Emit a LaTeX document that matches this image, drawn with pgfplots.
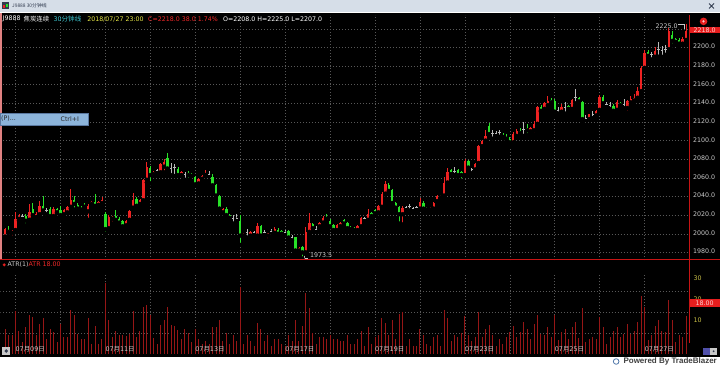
\documentclass[border=0pt]{standalone}
\usepackage{pgfplots}
\pgfplotsset{compat=1.18}
\usepackage{pgfplotstable}
\usetikzlibrary{backgrounds}
\usepackage{fontspec}
\setmainfont{DejaVu Sans}
\newfontfamily\cjk{Noto Sans CJK SC}
\newfontfamily\lib{Liberation Sans}

\definecolor{upred}{RGB}{238,34,34}
\definecolor{dngreen}{RGB}{40,225,40}
\definecolor{dojigray}{RGB}{185,185,185}
\definecolor{atrred}{RGB}{150,22,22}
\definecolor{gridgray}{RGB}{88,88,88}
\definecolor{lblgray}{RGB}{200,200,200}
\definecolor{sepred}{RGB}{200,20,20}
\definecolor{boxred}{RGB}{230,30,30}
\definecolor{boxtxt}{RGB}{255,205,205}
\definecolor{atrlbl}{RGB}{200,190,70}
\definecolor{titlebg}{RGB}{214,222,232}
\definecolor{titletxt}{RGB}{50,60,80}
\definecolor{menublue}{RGB}{140,180,218}
\definecolor{menuborder}{RGB}{90,120,160}
\definecolor{infoyellow}{RGB}{230,230,70}
\definecolor{infocyan}{RGB}{60,200,210}
\definecolor{infored}{RGB}{240,40,40}
\definecolor{pinkline}{RGB}{225,130,130}
\definecolor{iconblue}{RGB}{80,80,170}
\definecolor{logoblue}{RGB}{80,120,170}

\pgfplotstableread{
i o h l c a
0 1997 2006 1995 2005 12
1 2004 2008 2001 2002 9.2
2 2001 2004 1996 2003 9
3 2004 2023 2003 2016 20.6
4 2016 2021 2014 2019 10.8
5 2019 2021 2016 2019 5.7
6 2019 2021 2009 2014 12.9
7 2015 2032 2014 2023 18.4
8 2027 2033 2017 2020 17.6
9 2018 2023 2017 2021 8.9
10 2021 2035 2020 2030 14.4
11 2030 2040 2023 2025 17.1
12 2025 2028 2021 2025 7
13 2027 2029 2017 2019 12
14 2019 2029 2018 2027 10.5
15 2027 2028 2022 2023 5.7
16 2026 2030 2016 2020 14.4
17 2021 2027 2019 2025 8
18 2023 2030 2022 2029 8
19 2029 2048 2027 2036 21
20 2036 2040 2026 2032 18.4
21 2031 2033 2024 2027 9.7
22 2028 2030 2024 2026 7.3
23 2030 2033 2026 2029 7.3
24 2024 2032 2015 2030 17
25 2032 2035 2031 2034 5
26 2034 2043 2029 2030 13.3
27 2031 2035 2030 2034 5
28 2033 2039 2032 2036 7.3
29 2021 2023 2000 2005 33.8
30 2006 2020 2004 2018 16
31 2016 2019 2011 2017 8
32 2019 2025 2014 2015 10.8
33 2016 2018 2009 2012 9
34 2014 2015 2006 2008 9.2
35 2009 2015 2007 2014 8.5
36 2015 2025 2014 2024 9.7
37 2028 2044 2027 2036 20.3
38 2037 2039 2029 2030 8
39 2032 2037 2031 2036 10.8
40 2036 2059 2035 2058 22.4
41 2058 2077 2055 2072 23.2
42 2071 2073 2054 2063 18.4
43 2064 2067 2062 2066 7.6
44 2068 2070 2066 2068 5
45 2066 2076 2065 2075 13.7
46 2072 2080 2066 2077 16
47 2081 2087 2068 2070 22.4
48 2070 2076 2063 2070 13.7
49 2071 2075 2062 2071 13.3
50 2069 2072 2062 2063 11.3
51 2063 2067 2062 2066 7.3
52 2064 2066 2058 2064 12
53 2065 2067 2058 2063 10.2
54 2064 2065 2062 2062 5.7
55 2061 2062 2052 2053 12
56 2054 2060 2053 2059 7
57 2059 2063 2058 2062 5
58 2063 2068 2062 2064 6
59 2064 2067 2062 2064 5
60 2061 2064 2051 2052 13
61 2052 2053 2040 2041 13
62 2041 2042 2026 2027 16
63 2023 2028 2022 2027 6
64 2027 2029 2019 2020 10
65 2020 2021 2016 2017 5
66 2016 2020 2011 2016 9
67 2017 2021 2015 2017 6
68 2014 2020 1988 1998 32
69 1998 2001 1996 2000 5
70 2002 2005 1996 2002 9
71 1998 2003 1997 2002 6
72 2001 2003 1999 2001 4
73 1998 2012 1997 2008 15
74 2008 2009 1997 1998 12
75 2002 2004 1999 2002 6
76 1998 2001 1993 2001 9
77 2003 2005 2001 2003 4
78 2001 2007 2000 2005 7
79 2004 2006 1999 2000 7
80 2003 2004 1999 2000 5
81 2002 2004 2000 2002 4
82 2003 2004 1995 1996 9
83 1996 1999 1993 1996 6
84 1996 1997 1981 1982 16
85 1982 1986 1980 1985 6
86 1986 1987 1973.5 1980 13.5
87 1980 2007 1978 2002 29
88 2002 2022 2000 2012 22
89 2010 2012 2002 2006 10
90 2005 2008 2003 2005 5
91 2008 2013 2007 2012 8
92 2012 2019 2011 2017 8
93 2017 2021 2014 2016 7
94 2014 2016 2007 2008 9
95 2009 2010 2003 2004 7
96 2004 2010 2003 2009 7
97 2008 2013 2007 2012 6
98 2015 2016 2010 2011 6
99 2012 2013 2004 2006 9
100 2006 2008 2003 2005 5
101 2005 2007 2002 2004 5
102 2004 2009 2002 2008 7
103 2008 2018 2007 2017 11
104 2016 2018 2014 2016 4
105 2015 2027 2014 2021 13
106 2022 2023 2018 2019 5
107 2026 2027 2021 2022 8
108 2023 2031 2022 2030 9
109 2029 2045 2028 2043 17
110 2043 2057 2042 2053 15
111 2052 2054 2045 2046 9
112 2047 2048 2032 2033 16
113 2033 2034 2027 2028 7
114 2029 2030 2011 2021 19
115 2021 2030 2010 2028 20
116 2028 2030 2026 2028 4
117 2029 2032 2025 2029 7
118 2027 2029 2025 2027 4
119 2028 2030 2026 2028 4
120 2027 2038 2026 2034 12
121 2033 2035 2026 2027 9
122 2028 2029 2024 2026 5
123 2026 2029 2025 2028 4
124 2027 2034 2026 2033 8
125 2035 2042 2033 2041 9
126 2039 2042 2038 2041 4
127 2041 2061 2040 2054 21
128 2055 2071 2054 2066 17
129 2068 2069 2063 2064 6
130 2067 2072 2063 2067 9
131 2068 2069 2061 2063 8
132 2066 2067 2057 2063 10
133 2063 2080 2062 2078 18
134 2078 2079 2070 2071 9
135 2069 2071 2065 2069 6
136 2069 2076 2068 2075 8
137 2076 2095 2075 2094 20
138 2094 2101 2093 2100 8
139 2100 2111 2099 2105 12
140 2116 2119 2105 2107 14
141 2108 2111 2102 2108 9
142 2108 2110 2106 2108 4
143 2109 2111 2104 2109 7
144 2106 2108 2103 2104 4.9
145 2104 2107 2099 2102 8.1
146 2102 2104 2095 2098 10.5
147 2098 2109 2096 2107 13.3
148 2105 2112 2104 2110 8
149 2110 2114 2104 2108 10.5
150 2112 2120 2105 2112 15.2
151 2113 2118 2106 2111 12
152 2110 2115 2109 2113 7.3
153 2111 2121 2107 2118 14.4
154 2118 2137 2117 2136 18.4
155 2136 2138 2131 2132 9.7
156 2134 2141 2133 2140 8.9
157 2138 2148 2136 2143 12.9
158 2144 2146 2140 2141 8
159 2142 2145 2127 2131 18.4
160 2132 2136 2129 2132 6.5
161 2131 2139 2128 2136 10.5
162 2136 2141 2129 2136 12
163 2137 2138 2133 2134 7.3
164 2134 2145 2133 2144 12.9
165 2146 2155 2140 2146 15.2
166 2146 2147 2141 2142 7.5
167 2141 2142 2121 2123 21.9
168 2124 2127 2122 2124 5.7
169 2123 2129 2122 2128 7.3
170 2128 2132 2124 2128 8
171 2127 2133 2126 2132 7.3
172 2133 2149 2131 2147 17.6
173 2147 2149 2136 2140 12.9
174 2139 2141 2137 2139 4.9
175 2138 2141 2134 2138 8
176 2137 2139 2128 2132 10.8
177 2133 2144 2131 2141 12.9
178 2140 2141 2137 2138 8
179 2139 2145 2135 2139 9.7
180 2135 2144 2130 2142 14.4
181 2141 2148 2138 2145 9.7
182 2143 2150 2139 2146 11.1
183 2146 2158 2143 2153 15.2
184 2153 2180 2152 2178 27.5
185 2178 2197 2175 2194 22.4
186 2195 2197 2190 2191 6.5
187 2192 2195 2187 2192 8.9
188 2190 2200 2187 2196 13.3
189 2198 2206 2190 2198 16
190 2197 2201 2190 2197 11.1
191 2198 2203 2192 2198 10.5
192 2198 2221 2195 2218 25.9
193 2213 2218 2202 2207 16
194 2209 2210 2205 2206 5.7
195 2208 2210 2201 2204 8.9
196 2204 2211 2203 2209 8
197 2208 2225 2207 2218 18
}\kdata

\newcommand{\tbfont}{\fontsize{6.3}{7.5}\selectfont}

\pgfplotsset{
  tbpanel/.style={
    scale only axis, width=690pt,
    xmin=-1.333, xmax=198,
    axis line style={draw=none},
    xtick=\empty, ytick=\empty,
  },
}
\tikzset{tbgridline/.style={draw=gridgray, line width=0.5pt, dash pattern=on 1pt off 2pt}}

\begin{document}
\begin{tikzpicture}[x=1pt,y=1pt]

% ---------- main price panel ----------
\begin{axis}[tbpanel,
  at={(0,113.8)}, anchor=south west, height=246pt,
  ymin=1971.38, ymax=2235,
]
\pgfplotsinvokeforeach{3,16,29,42,55,68,81,94,107,120,133,146,159,172,185}{
  \draw[tbgridline] (axis cs:#1,1971.38) -- (axis cs:#1,2235);
}
\pgfplotsinvokeforeach{1980,2000,2020,2040,2060,2080,2100,2120,2140,2160,2180,2200,2220}{
  \draw[tbgridline] (axis cs:-1.333,#1) -- (axis cs:198,#1);
}
% wicks
\addplot[only marks, mark=none, forget plot,
  restrict expr to domain={\thisrow{c}-\thisrow{o}}{0.1:1000},
  error bars/y dir=plus, error bars/y explicit, error bars/error mark=none,
  error bars/error bar style={draw=upred, line width=0.7pt}]
  table[x=i, y=l, y error expr=\thisrow{h}-\thisrow{l}] {\kdata};
\addplot[only marks, mark=none, forget plot,
  restrict expr to domain={\thisrow{o}-\thisrow{c}}{0.1:1000},
  error bars/y dir=plus, error bars/y explicit, error bars/error mark=none,
  error bars/error bar style={draw=dngreen, line width=0.7pt}]
  table[x=i, y=l, y error expr=\thisrow{h}-\thisrow{l}] {\kdata};
\addplot[only marks, mark=none, forget plot,
  restrict expr to domain={\thisrow{c}-\thisrow{o}}{-0.1:0.1},
  error bars/y dir=plus, error bars/y explicit, error bars/error mark=none,
  error bars/error bar style={draw=dojigray, line width=0.7pt}]
  table[x=i, y=l, y error expr=\thisrow{h}-\thisrow{l}] {\kdata};
% bodies
\addplot[only marks, mark=none, forget plot,
  restrict expr to domain={\thisrow{c}-\thisrow{o}}{0.1:1000},
  error bars/y dir=plus, error bars/y explicit, error bars/error mark=none,
  error bars/error bar style={draw=upred, line width=2.4pt}]
  table[x=i, y=o, y error expr=\thisrow{c}-\thisrow{o}] {\kdata};
\addplot[only marks, mark=none, forget plot,
  restrict expr to domain={\thisrow{o}-\thisrow{c}}{0.1:1000},
  error bars/y dir=plus, error bars/y explicit, error bars/error mark=none,
  error bars/error bar style={draw=dngreen, line width=2.4pt}]
  table[x=i, y=c, y error expr=\thisrow{o}-\thisrow{c}] {\kdata};
\addplot[only marks, mark=-, mark size=1.2pt, forget plot,
  mark options={draw=dojigray, line width=0.8pt},
  restrict expr to domain={\thisrow{c}-\thisrow{o}}{-0.1:0.1}]
  table[x=i, y=c] {\kdata};
% high / low annotations
\draw[lblgray, line width=0.5pt] (axis cs:194.8,2225) -- (axis cs:196.6,2225) -- (axis cs:196.6,2220);
\node[anchor=east, inner sep=0pt, text=lblgray, font=\tbfont] at (axis cs:194.6,2222.2) {2225.0};
\draw[lblgray, line width=0.5pt] (axis cs:86.5,1978.9) -- (axis cs:86.5,1973.5) -- (axis cs:87.7,1973.5);
\node[anchor=west, inner sep=0pt, text=lblgray, font=\tbfont] at (axis cs:88.2,1976.7) {1973.5};
\end{axis}

% ---------- ATR panel ----------
\begin{axis}[tbpanel,
  at={(0,59.5)}, anchor=south west, height=80pt,
  ymin=0, ymax=38.1,
]
\pgfplotsinvokeforeach{3,16,29,42,55,68,81,94,107,120,133,146,159,172,185}{
  \draw[tbgridline] (axis cs:#1,0) -- (axis cs:#1,38.1);
}
\pgfplotsinvokeforeach{10,20,30}{
  \draw[tbgridline] (axis cs:-1.333,#1) -- (axis cs:198,#1);
}
\addplot[ycomb, draw=atrred, line width=0.9pt, mark=none] table[x=i, y=a] {\kdata};
\end{axis}

\begin{scope}[on background layer]
\fill[black] (0,0) rectangle (720,367);
\end{scope}

% right-hand scale labels
\foreach \v in {1980,2000,2020,2040,2060,2080,2100,2120,2140,2160,2180,2200}{
  \node[anchor=west, inner sep=0pt, text=lblgray, font=\tbfont] at (693.5,{107+(\v-1971.38)*0.9332}) {\v.0};
}
\foreach \v in {10,20,30}{
  \node[anchor=west, inner sep=0pt, text=atrlbl, font=\tbfont] at (694,{25+\v*2.0997}) {\v};
}

% date labels (day boundaries every 45 px, labels every second day)
\foreach \xx/\lab in {15/09, 105/11, 195/13, 285/17, 375/19, 465/23, 555/25, 645/27}{
  \node[anchor=west, inner sep=0pt, text=lblgray, font=\fontsize{6.4}{7.5}\selectfont] at (\xx,17) {07{\cjk 月}\lab{\cjk 日}};
}

% ---------- frame lines ----------
\draw[sepred, line width=1pt] (0,107.2) -- (720,107.2);
\draw[sepred, line width=1pt] (689.5,24) -- (689.5,352);
\draw[pinkline, line width=1.4pt] (0.7,107.7) -- (0.7,354);

% current value boxes
\fill[boxred] (690,333.7) rectangle (720,340.3);
\node[inner sep=0pt, text=boxtxt, font=\tbfont] at (705,337) {2218.0};
\fill[boxred] (704,345.6) circle (3.8);
\fill[boxtxt] (704,345.6) circle (1.2);
\fill[boxred] (690,60) rectangle (720,67.2);
\node[inner sep=0pt, text=boxtxt, font=\tbfont] at (705,63.6) {18.00};

% ATR header
\node[anchor=west, inner sep=0pt, font=\tbfont] at (2,102) {{\color{boxred}\fontsize{4.5}{5}\selectfont ◆}\hspace{1.5pt}{\color{lblgray}ATR(1)}{\color{infored}ATR 18.00}};

% info line
\node[anchor=west, inner sep=0pt, font=\tbfont, text=white] at (2,348) {J9888};
\node[anchor=west, inner sep=0pt, font=\cjk\fontsize{6.4}{7.5}\selectfont, text=white] at (23,348) {焦炭连续};
\node[anchor=west, inner sep=0pt, font=\tbfont, text=infocyan] at (53,348) {30{\cjk\fontsize{6.6}{7.5}\selectfont 分钟线}};
\node[anchor=west, inner sep=0pt, font=\tbfont, text=infoyellow] at (86.7,348) {2018/07/27 23:00};
\node[anchor=west, inner sep=0pt, font=\tbfont, text=infored] at (147.7,348) {C=2218.0 38.0 1.74\%};
\node[anchor=west, inner sep=0pt, font=\tbfont, text=white] at (222.7,348) {O=2208.0 H=2225.0 L=2207.0};

% title bar
\fill[titlebg] (0,355) rectangle (720,367);
\draw[white, line width=0.6pt] (0,354.8) -- (720,354.8);
\fill[titletxt] (1.5,357.5) rectangle (9,364.5);
\fill[upred] (3,359) rectangle (5,362);
\fill[dngreen] (6,360) rectangle (7.8,363);
\node[anchor=west, inner sep=0pt, text=titletxt, font=\cjk\fontsize{4.9}{6}\selectfont] at (11.5,361) {J9888 30分钟线};
\draw[titletxt, line width=0.9pt] (709.5,358.5) -- (714.5,363.5) (709.5,363.5) -- (714.5,358.5);

% popup menu
\fill[menublue] (0,242) rectangle (88,254);
\draw[menuborder, line width=0.5pt] (0,242) rectangle (88,254);
\node[anchor=west, inner sep=0pt, text=black!85, font=\tbfont] at (0.5,248) {(P)...};
\node[anchor=west, inner sep=0pt, text=black!85, font=\tbfont] at (60,248) {Ctrl+I};

% bottom icons
\fill[lblgray] (2,11.5) rectangle (9.5,19.5);
\fill[titletxt] (5.75,13.5) -- (7.5,15.5) -- (5.75,17.5) -- (4,15.5) -- cycle;
\fill[iconblue] (703,11.5) rectangle (710,19);
\fill[lblgray] (710.5,11.5) rectangle (717.5,19);
\fill[titletxt] (714,15.25) circle (1);

% bottom strip
\fill[white] (0,0) rectangle (720,10);
\draw[logoblue, line width=0.8pt] (616.5,5) circle (2.8);
\node[anchor=east, inner sep=0pt, text=black!75, font=\lib\bfseries\fontsize{8}{9}\selectfont] at (717.5,4.8) {Powered By TradeBlazer};
\end{tikzpicture}
\end{document}
